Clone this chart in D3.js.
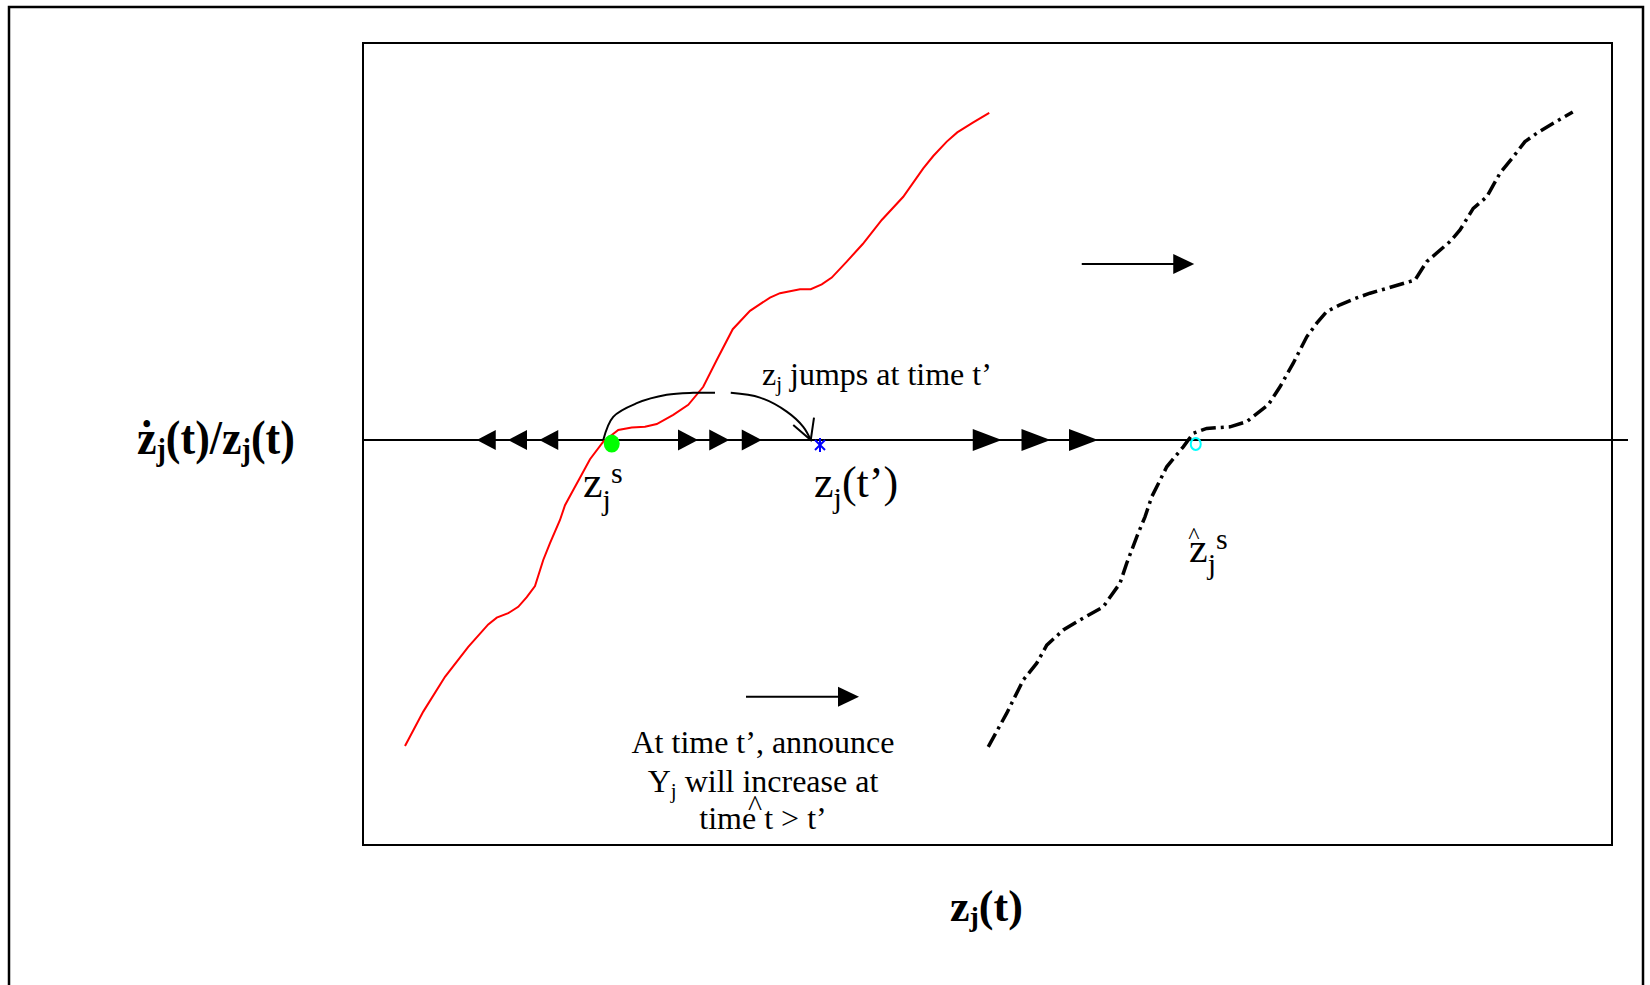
<!DOCTYPE html>
<html>
<head>
<meta charset="utf-8">
<script src="https://cdnjs.cloudflare.com/ajax/libs/d3/7.8.5/d3.min.js"></script>
<style>
  body { margin: 0; background: #fff; }
  svg { display: block; }
  text { font-family: "Liberation Serif", "Times New Roman", serif; fill: #000; }
</style>
</head>
<body>
<svg id="canvas"></svg>
<script>
// growth rate curve today (red), [z, zdot/z]
const curveNow = [
  [3.36, -76.5], [4.82, -67.9], [6.56, -59.2], [8.42, -51.7], [10.02, -46.1],
  [10.7, -44.4], [11.62, -43.3], [12.42, -41.7], [13.1, -39.3], [13.76, -36.5],
  [14.42, -30.0], [14.96, -25.8], [15.76, -20.0], [16.16, -16.3], [16.82, -12.5],
  [17.5, -8.6], [18.16, -4.8], [19.22, -0.4], [20.42, 2.5], [21.5, 3.1],
  [22.56, 3.3], [23.5, 4.0], [24.82, 6.3], [26.02, 8.8], [27.22, 13.3],
  [28.3, 20.0], [29.58, 27.7], [30.96, 32.3], [32.56, 35.6], [33.36, 36.7],
  [34.96, 37.7], [35.82, 37.7], [36.7, 38.9], [37.5, 40.6], [38.7, 44.6],
  [39.98, 49.0], [41.5, 55.0], [43.22, 60.8], [44.82, 67.9], [45.62, 71.0],
  [46.7, 74.6], [47.54, 76.9], [48.82, 79.4], [50.1, 81.8]
];

// growth rate curve after the announcement (black dash-dot)
const curveLater = [
  [50.02, -76.7], [51.5, -68.3], [52.82, -60.0], [53.9, -55.8], [54.7, -51.3],
  [56.02, -47.5], [57.36, -45.0], [59.22, -41.7], [60.56, -35.8], [61.1, -30.8],
  [61.9, -24.2], [62.56, -19.2], [63.1, -14.2], [64.3, -6.7], [65.62, -1.7],
  [66.42, 1.7], [67.5, 2.9], [69.36, 3.3], [70.7, 4.6], [72.42, 8.8],
  [73.36, 13.3], [74.42, 19.2], [75.5, 25.8], [76.3, 29.2], [77.1, 32.1],
  [78.16, 33.8], [79.22, 35.2], [80.56, 36.7], [81.9, 37.9], [84.16, 40.0],
  [85.1, 44.6], [86.96, 49.6], [87.76, 52.5], [88.82, 57.9], [89.9, 60.8],
  [90.96, 66.7], [92.02, 70.8], [92.96, 74.6], [93.9, 76.7], [95.22, 79.2],
  [96.78, 82.0]
];

// jump arc (two pieces with a gap) and its open head
const arcLeft = [[19.22, 0], [20.02, 5.8], [21.9, 9.2], [24.3, 11.3], [26.42, 11.8], [28.16, 11.8]];
const arcRight = [[29.42, 11.8], [31.76, 10.6], [33.9, 7.1], [35.22, 3.3], [35.82, 0]];
const arcHead = [[34.42, 3.75], [35.82, 0], [36.08, 5.6]];

// direction arrowheads on the axis (tip positions)
const leftTips = [9.1, 11.6, 14.1];
const smallRightTips = [26.8, 29.3, 31.9];
const bigRightTips = [51.1, 55.0, 58.8];

// points
const steadyPoint = [19.9, -0.9];
const jumpPoint = [36.56, -1.25];
const newSteadyPoint = [66.62, -1.0];

// shift arrows
const shiftArrows = [
  { from: [57.5, 44], to: [66.5, 44] },
  { from: [30.64, -64.2], to: [39.68, -64.2] }
];

const width = 1650;
const height = 985;
const box = { left: 363, top: 43, right: 1612, bottom: 845 };

const canvas = d3.select("#canvas").attr("width", width).attr("height", height);

const xScale = d3.scaleLinear().domain([0, 100]).range([363, 1613]);
const yScale = d3.scaleLinear().domain([-100, 100]).range([840, 40]);

// outer frame (runs off the bottom)
canvas.append("rect")
  .attr("x", 9).attr("y", 7).attr("width", 1634).attr("height", 1100)
  .attr("fill", "none").attr("stroke", "#000").attr("stroke-width", 2.5);

// inner plot box
canvas.append("rect")
  .attr("x", box.left).attr("y", box.top)
  .attr("width", box.right - box.left).attr("height", box.bottom - box.top)
  .attr("fill", "none").attr("stroke", "#000").attr("stroke-width", 2);

// horizontal axis
canvas.append("line")
  .attr("x1", box.left).attr("x2", 1628)
  .attr("y1", yScale(0)).attr("y2", yScale(0))
  .attr("stroke", "#000").attr("stroke-width", 2);

const line = d3.line().x((d) => xScale(d[0])).y((d) => yScale(d[1]));
const smooth = d3.line().x((d) => xScale(d[0])).y((d) => yScale(d[1])).curve(d3.curveCatmullRom);

canvas.append("path").attr("d", line(curveNow))
  .attr("fill", "none").attr("stroke", "#ff0000").attr("stroke-width", 2);

canvas.append("path").attr("d", line(curveLater))
  .attr("fill", "none").attr("stroke", "#000").attr("stroke-width", 3.5)
  .attr("stroke-dasharray", "15,5,3,5");

[arcLeft, arcRight].forEach((seg) => {
  canvas.append("path").attr("d", smooth(seg))
    .attr("fill", "none").attr("stroke", "#000").attr("stroke-width", 2);
});
canvas.append("path").attr("d", line(arcHead))
  .attr("fill", "none").attr("stroke", "#000").attr("stroke-width", 2);

// filled arrowhead
const head = (tx, ty, dir, len, h) => {
  const bx = tx - dir * len;
  return `M${tx},${ty}L${bx},${ty - h / 2}L${bx},${ty + h / 2}Z`;
};

leftTips.forEach((t) => {
  canvas.append("path").attr("d", head(xScale(t), yScale(0), -1, 19, 20)).attr("fill", "#000");
});
smallRightTips.forEach((t) => {
  canvas.append("path").attr("d", head(xScale(t), yScale(0), 1, 20, 21)).attr("fill", "#000");
});
bigRightTips.forEach((t) => {
  canvas.append("path").attr("d", head(xScale(t), yScale(0), 1, 29, 22)).attr("fill", "#000");
});

shiftArrows.forEach((a) => {
  canvas.append("line")
    .attr("x1", xScale(a.from[0])).attr("x2", xScale(a.to[0]) - 18)
    .attr("y1", yScale(a.from[1])).attr("y2", yScale(a.to[1]))
    .attr("stroke", "#000").attr("stroke-width", 2);
  canvas.append("path").attr("d", head(xScale(a.to[0]), yScale(a.to[1]), 1, 21, 20)).attr("fill", "#000");
});

// markers
canvas.append("ellipse")
  .attr("cx", xScale(steadyPoint[0])).attr("cy", yScale(steadyPoint[1]))
  .attr("rx", 8).attr("ry", 9).attr("fill", "#00ff00");

const sx = xScale(jumpPoint[0]);
const sy = yScale(jumpPoint[1]);
[[0, -7], [5, -5], [5, 5]].forEach(([dx, dy]) => {
  canvas.append("line")
    .attr("x1", sx - dx).attr("y1", sy - dy).attr("x2", sx + dx).attr("y2", sy + dy)
    .attr("stroke", "#0000ff").attr("stroke-width", 2);
});

canvas.append("ellipse")
  .attr("cx", xScale(newSteadyPoint[0])).attr("cy", yScale(newSteadyPoint[1]))
  .attr("rx", 5).attr("ry", 6).attr("fill", "none").attr("stroke", "#00ffff").attr("stroke-width", 2);

// text with sub/superscripts: parts = [text, size, dy]
const richText = (x, y, size, parts, opts = {}) => {
  const t = canvas.append("text").attr("font-size", size);
  if (opts.transform) t.attr("transform", opts.transform);
  else t.attr("x", x).attr("y", y);
  if (opts.bold) t.attr("font-weight", "bold");
  if (opts.anchor) t.attr("text-anchor", opts.anchor);
  parts.forEach(([s, fs, dy]) => {
    t.append("tspan").attr("font-size", fs || size).attr("dy", dy || 0).text(s);
  });
  return t;
};

// axis titles
richText(0, 0, 44, [["ż"], ["j", 28, 5], ["(t)/z", 44, -5], ["j", 28, 5], ["(t)", 44, -5]],
  { bold: true, transform: "translate(137,454) scale(1,1.12)" });
richText(950, 921, 44, [["z"], ["j", 28, 5], ["(t)", 44, -5]], { bold: true });

// annotations
richText(762, 385, 32, [["z"], ["j", 21, 6], [" jumps at time t\u2019", 32, -6]]);
richText(583, 497, 44, [["z"], ["j", 30, 13], ["s", 30, -27]]);
richText(814, 497, 44, [["z"], ["j", 30, 11], ["(t\u2019)", 44, -11]]);
richText(1189, 562, 42, [["z"], ["j", 30, 12], ["s", 30, -25]]);
canvas.append("text").attr("x", 1194).attr("y", 543).attr("font-size", 24)
  .attr("text-anchor", "middle").text("^");

richText(763, 753, 32, [["At time t\u2019, announce"]], { anchor: "middle" });
richText(763, 792, 32, [["Y"], ["j", 21, 6], [" will increase at", 32, -6]], { anchor: "middle" });
richText(763, 829, 32, [["time t > t\u2019"]], { anchor: "middle" });
canvas.append("text").attr("x", 755).attr("y", 816).attr("font-size", 30)
  .attr("text-anchor", "middle").text("^");
</script>
</body>
</html>
